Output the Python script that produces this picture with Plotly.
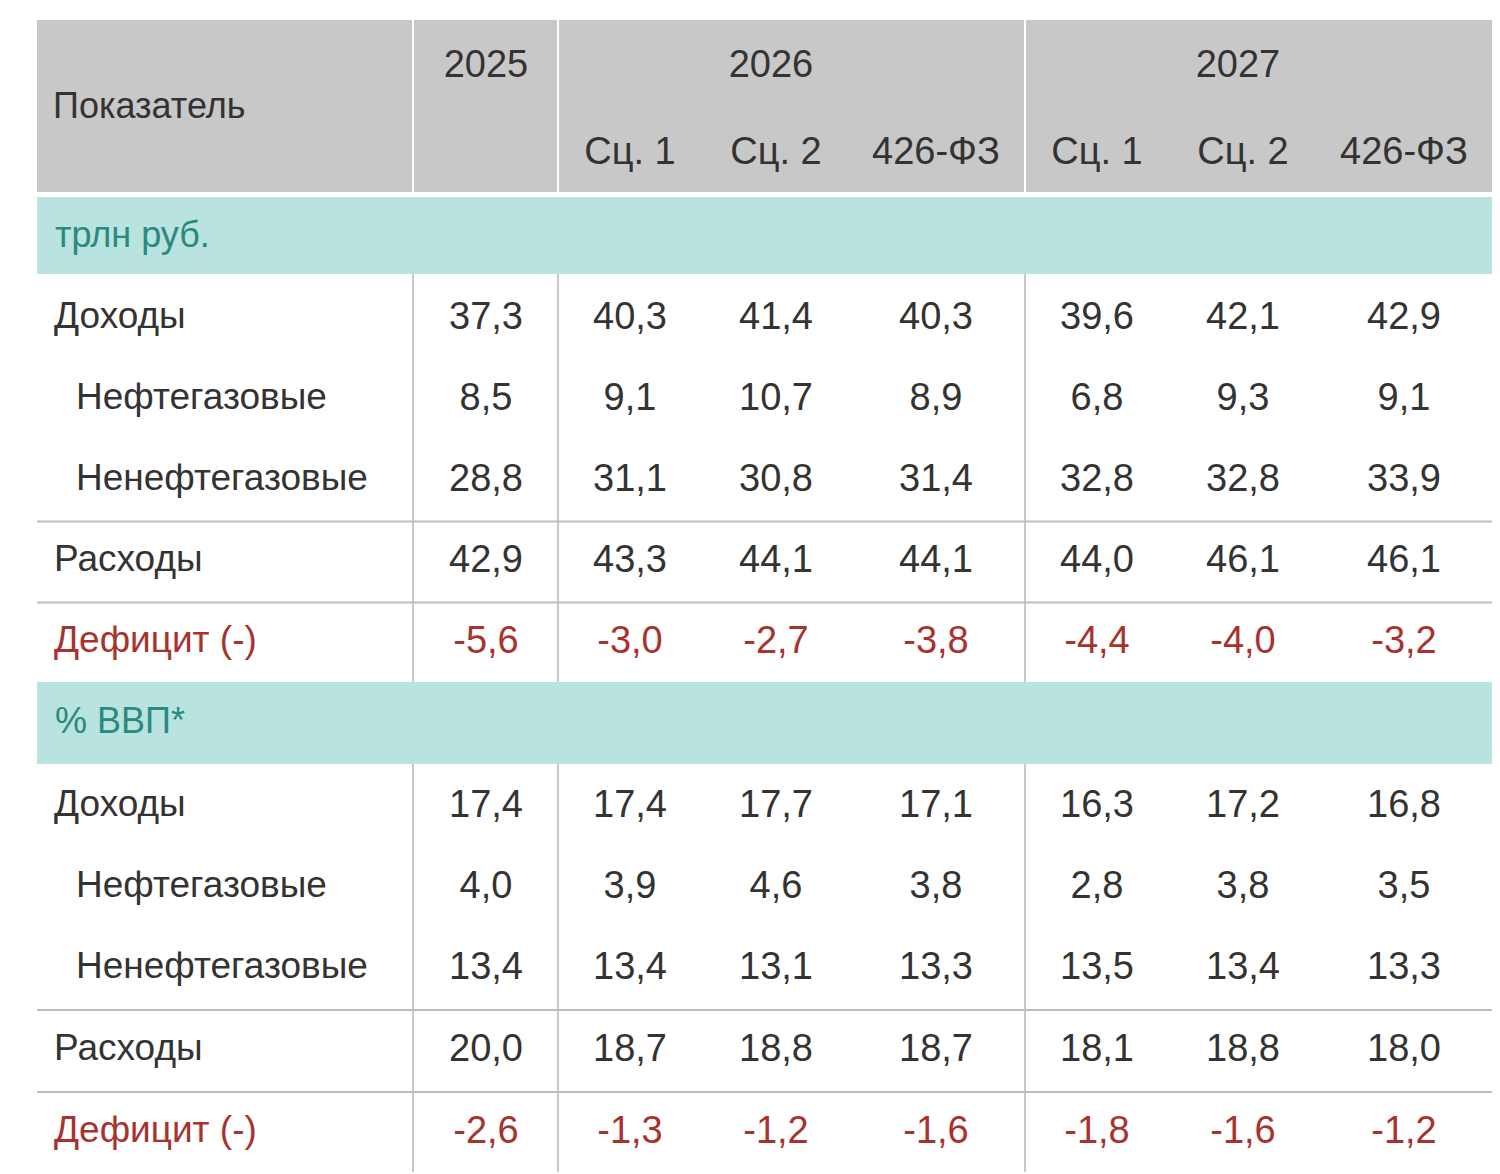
import plotly.graph_objects as go

# ---- data ----
years = ["2025", "2026", "2027"]
scenarios = ["Сц. 1", "Сц. 2", "426-ФЗ", "Сц. 1", "Сц. 2", "426-ФЗ"]
row_labels = ["Доходы", "Нефтегазовые", "Ненефтегазовые", "Расходы", "Дефицит (-)"]
section_titles = ["трлн руб.", "% ВВП*"]

trln = [
    ["37,3", "40,3", "41,4", "40,3", "39,6", "42,1", "42,9"],
    ["8,5", "9,1", "10,7", "8,9", "6,8", "9,3", "9,1"],
    ["28,8", "31,1", "30,8", "31,4", "32,8", "32,8", "33,9"],
    ["42,9", "43,3", "44,1", "44,1", "44,0", "46,1", "46,1"],
    ["-5,6", "-3,0", "-2,7", "-3,8", "-4,4", "-4,0", "-3,2"],
]
gdp = [
    ["17,4", "17,4", "17,7", "17,1", "16,3", "17,2", "16,8"],
    ["4,0", "3,9", "4,6", "3,8", "2,8", "3,8", "3,5"],
    ["13,4", "13,4", "13,1", "13,3", "13,5", "13,4", "13,3"],
    ["20,0", "18,7", "18,8", "18,7", "18,1", "18,8", "18,0"],
    ["-2,6", "-1,3", "-1,2", "-1,6", "-1,8", "-1,6", "-1,2"],
]

# ---- layout geometry (pixels) ----
COL_X = [486, 630, 776, 936, 1097, 1243, 1404]
YEAR_X = [486, 771, 1238]
SECTION_ROWS_Y = [[317, 398, 479, 560, 641], [805, 886, 967, 1049, 1131]]
BAND_Y = [(195, 272), (680, 762)]
BAND_TXT_Y = [236, 722]
LEFT, RIGHT = 37, 1492
TEXT = "#333333"
RED = "#a8322d"
TEAL = "#2b8a80"
FONT = "Liberation Sans, Arial, sans-serif"
FS = 38

fig = go.Figure()
shapes = []

# header
shapes.append(dict(type="rect", x0=LEFT, x1=RIGHT, y0=18, y1=190,
                   fillcolor="#c8c8c8", line_width=0, layer="below"))
for vx in (413, 558, 1025):
    shapes.append(dict(type="line", x0=vx, x1=vx, y0=18, y1=190,
                       line=dict(color="#ffffff", width=2)))

fig.add_trace(go.Scatter(x=[53], y=[107], text=["Показатель"], mode="text",
                         textposition="middle right",
                         textfont=dict(size=FS - 2, color=TEXT, family=FONT)))
fig.add_trace(go.Scatter(x=YEAR_X, y=[65] * 3, text=years, mode="text",
                         textfont=dict(size=FS, color=TEXT, family=FONT)))
fig.add_trace(go.Scatter(x=COL_X[1:], y=[152] * 6, text=scenarios, mode="text",
                         textfont=dict(size=FS, color=TEXT, family=FONT)))

for s, data in enumerate([trln, gdp]):
    b0, b1 = BAND_Y[s]
    shapes.append(dict(type="rect", x0=LEFT, x1=RIGHT, y0=b0, y1=b1,
                       fillcolor="#b8e3de", line_width=0, layer="below"))
    fig.add_trace(go.Scatter(x=[55], y=[BAND_TXT_Y[s]], text=[section_titles[s]],
                             mode="text", textposition="middle right",
                             textfont=dict(size=FS - 2, color=TEAL, family=FONT)))
    ys = SECTION_ROWS_Y[s]
    body_end = 1170 if s == 1 else 680
    for vx in (413, 558, 1025):
        shapes.append(dict(type="line", x0=vx, x1=vx, y0=b1, y1=body_end,
                           line=dict(color="#c8c8c8", width=2)))
    for ly in ((ys[2] + ys[3]) / 2, (ys[3] + ys[4]) / 2):
        shapes.append(dict(type="line", x0=LEFT, x1=RIGHT, y0=ly, y1=ly,
                           line=dict(color="#bdbdbd", width=2)))
    for r, label in enumerate(row_labels):
        color = RED if r == 4 else TEXT
        indent = 76 if r in (1, 2) else 54
        fig.add_trace(go.Scatter(x=[indent], y=[ys[r]], text=[label], mode="text",
                                 textposition="middle right",
                                 textfont=dict(size=FS - 1, color=color, family=FONT)))
        fig.add_trace(go.Scatter(x=COL_X, y=[ys[r]] * 7, text=data[r], mode="text",
                                 textfont=dict(size=FS, color=color, family=FONT)))

fig.update_layout(
    width=1500, height=1174,
    margin=dict(l=0, r=0, t=0, b=0),
    paper_bgcolor="white", plot_bgcolor="white",
    showlegend=False, shapes=shapes,
    xaxis=dict(range=[8, 1508], visible=False, fixedrange=True),
    yaxis=dict(range=[1180, 6], visible=False, fixedrange=True),
)
fig.write_html("out.html", config={"displayModeBar": False})
